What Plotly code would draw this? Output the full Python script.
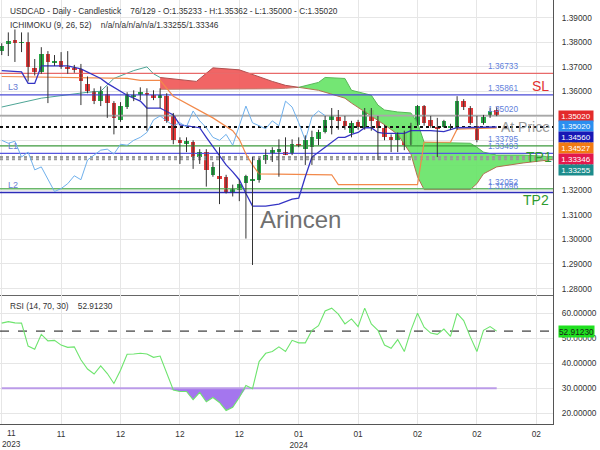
import plotly.graph_objects as go

# ------------------------------------------------------------------ data
candle_idx = list(range(76))
opens = [1.3764, 1.3792, 1.3808, 1.3798, 1.3800, 1.3696, 1.3680, 1.3752, 1.3718, 1.3724,
         1.3700, 1.3692, 1.3692, 1.3629, 1.3601, 1.3561, 1.3589, 1.3553, 1.3485, 1.3537,
         1.3579, 1.3585, 1.3593, 1.3585, 1.3577, 1.3581, 1.3505, 1.3402, 1.3386, 1.3394,
         1.3334, 1.3354, 1.3262, 1.3258, 1.3254, 1.3194, 1.3202, 1.3230, 1.3238, 1.3242,
         1.3322, 1.3350, 1.3354, 1.3354, 1.3346, 1.3386, 1.3366, 1.3374, 1.3406, 1.3434,
         1.3485, 1.3497, 1.3481, 1.3430, 1.3477, 1.3453, 1.3525, 1.3481, 1.3453, 1.3414,
         1.3402, 1.3430, 1.3386, 1.3465, 1.3541, 1.3485, 1.3457, 1.3457, 1.3453, 1.3453,
         1.3561, 1.3533, 1.3461, 1.3473, 1.3501, 1.35233]
highs = [1.3796, 1.3840, 1.3852, 1.3840, 1.3840, 1.3732, 1.3780, 1.3764, 1.3748, 1.3760,
         1.3764, 1.3708, 1.3712, 1.3661, 1.3613, 1.3621, 1.3621, 1.3561, 1.3557, 1.3597,
         1.3605, 1.3617, 1.3613, 1.3605, 1.3613, 1.3593, 1.3513, 1.3414, 1.3414, 1.3402,
         1.3366, 1.3366, 1.3314, 1.3374, 1.3262, 1.3222, 1.3242, 1.3262, 1.3334, 1.3330,
         1.3366, 1.3374, 1.3406, 1.3414, 1.3406, 1.3414, 1.3422, 1.3441, 1.3445, 1.3501,
         1.3533, 1.3525, 1.3501, 1.3481, 1.3485, 1.3533, 1.3533, 1.3501, 1.3465, 1.3426,
         1.3434, 1.3441, 1.3473, 1.3545, 1.3545, 1.3501, 1.3493, 1.3485, 1.3469, 1.3581,
         1.3569, 1.3541, 1.3501, 1.3505, 1.3533, 1.35362]
lows = [1.3748, 1.3744, 1.3720, 1.3760, 1.3641, 1.3665, 1.3672, 1.3553, 1.3704, 1.3692,
        1.3672, 1.3676, 1.3545, 1.3593, 1.3549, 1.3541, 1.3493, 1.3426, 1.3477, 1.3529,
        1.3561, 1.3565, 1.3441, 1.3565, 1.3533, 1.3473, 1.3386, 1.3306, 1.3354, 1.3286,
        1.3306, 1.3214, 1.3254, 1.3143, 1.3186, 1.3174, 1.3155, 1.3003, 1.2896, 1.3230,
        1.3306, 1.3314, 1.3254, 1.3342, 1.3342, 1.3374, 1.3302, 1.3302, 1.3382, 1.3430,
        1.3426, 1.3445, 1.3445, 1.3414, 1.3445, 1.3445, 1.3441, 1.3322, 1.3402, 1.3354,
        1.3354, 1.3362, 1.3382, 1.3461, 1.3461, 1.3453, 1.3334, 1.3453, 1.3445, 1.3445,
        1.3525, 1.3465, 1.3394, 1.3465, 1.3493, 1.35000]
closes = [1.3784, 1.3804, 1.3796, 1.3800, 1.3700, 1.3680, 1.3752, 1.3720, 1.3722, 1.3700,
          1.3692, 1.3688, 1.3641, 1.3601, 1.3561, 1.3601, 1.3553, 1.3493, 1.3541, 1.3589,
          1.3585, 1.3597, 1.3589, 1.3577, 1.3585, 1.3481, 1.3402, 1.3390, 1.3398, 1.3334,
          1.3354, 1.3282, 1.3294, 1.3246, 1.3194, 1.3206, 1.3226, 1.3258, 1.3242, 1.3322,
          1.3342, 1.3362, 1.3366, 1.3346, 1.3386, 1.3382, 1.3402, 1.3414, 1.3434, 1.3485,
          1.3501, 1.3481, 1.3461, 1.3473, 1.3457, 1.3521, 1.3481, 1.3453, 1.3414, 1.3402,
          1.3426, 1.3382, 1.3465, 1.3541, 1.3473, 1.3461, 1.3449, 1.3481, 1.3461, 1.3561,
          1.3537, 1.3473, 1.3402, 1.3497, 1.3521, 1.35020]

tenkan_idx = [0, 3, 4, 5, 6, 10, 12, 13, 15, 16, 19, 21, 22, 24, 26, 27, 30, 31, 34, 35,
              36, 37, 38, 40, 42, 44, 45, 46, 47, 49, 51, 52, 53, 54, 55, 56, 57, 58, 61, 62,
              65, 67, 69, 75]
tenkan_val = [1.3685, 1.3680, 1.3633, 1.3633, 1.3704, 1.3704, 1.3692, 1.3680, 1.3653, 1.3633,
              1.3585, 1.3561, 1.3533, 1.3533, 1.3505, 1.3465, 1.3453, 1.3414, 1.3302, 1.3274,
              1.3242, 1.3186, 1.3135, 1.3135, 1.3143, 1.3163, 1.3167, 1.3254, 1.3334, 1.3374,
              1.3414, 1.3414, 1.3426, 1.3434, 1.3453, 1.3453, 1.3434, 1.3430, 1.3430, 1.3441,
              1.3441, 1.3437, 1.3453, 1.3456]
kijun_idx = [0, 19, 21, 24, 26, 30, 32, 35, 36, 37, 38, 39, 50, 51, 63, 64, 68, 69, 75]
kijun_val = [1.3661, 1.3653, 1.3645, 1.3645, 1.3581, 1.3521, 1.3493, 1.3441, 1.3406, 1.3346,
             1.3302, 1.3266, 1.3262, 1.3222, 1.3222, 1.3394, 1.3394, 1.3447, 1.34527]
span_pre_idx = [0, 5, 6, 13, 15, 17, 20, 22, 23, 24]
span_pre_val = [1.3537, 1.3565, 1.3573, 1.3597, 1.3601, 1.3653, 1.3685, 1.3700, 1.3672, 1.3657]
red_cloud_idx = [24, 29.5, 32, 36, 41, 43, 45]
red_cloud_a = [1.3609, 1.3609, 1.3609, 1.3611, 1.3611, 1.3613, 1.3617]
red_cloud_b = [1.3657, 1.3641, 1.3696, 1.3688, 1.3641, 1.3625, 1.3617]
green_cloud_idx = [45, 48, 49, 52, 53, 56, 57, 58, 60, 62, 63, 64, 71, 72, 73, 75, 79, 84]
green_cloud_a = [1.3617, 1.3637, 1.3657, 1.3653, 1.3605, 1.3585, 1.3545, 1.3525, 1.3517,
                 1.3513, 1.3473, 1.3394, 1.3390, 1.3374, 1.3354, 1.3342, 1.3342, 1.33346]
green_cloud_b = [1.3617, 1.3605, 1.3597, 1.3573, 1.3553, 1.3501, 1.3485, 1.3465, 1.3426,
                 1.3346, 1.3254, 1.3202, 1.3202, 1.3226, 1.3266, 1.3294, 1.3310, 1.33255]
chikou_shift = 26

rsi_val = [56.1, 56.7, 56.2, 56.1, 46.9, 45.6, 51.6, 49.0, 49.2, 47.3,
           46.4, 46.6, 41.4, 37.7, 35.7, 39.0, 35.9, 31.9, 37.2, 43.6,
           43.7, 44.0, 43.7, 42.4, 42.9, 36.1, 29.3, 28.7, 28.7, 25.4,
           28.3, 24.6, 26.3, 24.3, 21.1, 22.4, 26.3, 31.1, 29.8, 40.7,
           44.0, 44.7, 46.6, 44.7, 49.2, 48.2, 48.2, 53.2, 55.1, 61.0,
           62.1, 59.7, 55.8, 57.8, 54.7, 62.1, 55.8, 53.2, 47.3, 46.0,
           49.5, 44.7, 53.2, 60.1, 54.5, 52.1, 51.6, 53.7, 50.8, 60.0,
           57.1, 50.6, 44.7, 53.2, 54.7, 52.9123]
rsi_last = 52.9123
rsi_oversold = 30

level_sl = 1.36733
level_l3 = 1.35861
level_price = 1.35020
level_at_price = 1.34560
level_tp1 = 1.33795
level_l1 = 1.33493
level_span_b = 1.33346
level_span_a = 1.33255
level_tp2 = 1.32052
level_l2 = 1.31896
labelled_levels = [level_sl, level_l3, level_price, level_tp1, level_l1, level_tp2, level_l2]

price_box_vals = [1.35020, 1.35020, 1.34560, 1.34527, 1.33346, 1.33255]
price_box_cols = ["#e32b2b", "#2b8ff0", "#1717b5", "#f27a12", "#e3184c", "#1c8c8c"]

tick_idx = [0, 9, 18, 27, 36, 45, 54, 63, 72, 81]
tick_text = ["", "11", "12", "12", "12", "01<br>2024", "01", "02", "02", "02"]
first_tick_text = "11<br>2023"
price_ticks = [1.28, 1.29, 1.30, 1.31, 1.32, 1.33, 1.34, 1.35, 1.36, 1.37, 1.38, 1.39]
rsi_ticks = [20, 30, 40, 50, 60, 70]

# ------------------------------------------------------------------ geometry
W, H = 600, 450
MR, MB = 47, 18
PW, PH = W - MR, H - MB          # plot area 553 x 432
SEP = 300.7                      # px from top where panels meet
x_range = [-0.26, 83.53]
y_range = [1.27735, 1.39715]
rsi_range = [15.67, 67.32]
main_dom = [(PH - SEP) / PH, 1.0]
rsi_dom = [0.0, (PH - SEP) / PH]

FONT = "Liberation Sans, Arial, sans-serif"


def px(xp):
    return xp / PW


def py(yp):
    return (PH - yp) / PH


fig = go.Figure()

# ---- Ichimoku cloud
fig.add_trace(go.Scatter(x=span_pre_idx, y=span_pre_val, mode="lines",
                         line=dict(color="#4ea596", width=1)))
fig.add_trace(go.Scatter(x=red_cloud_idx, y=red_cloud_a, mode="lines",
                         line=dict(color="#c08070", width=1)))
fig.add_trace(go.Scatter(x=red_cloud_idx, y=red_cloud_b, mode="lines", fill="tonexty",
                         fillcolor="rgba(240,88,88,0.92)", line=dict(color="#b05050", width=1)))
fig.add_trace(go.Scatter(x=green_cloud_idx, y=green_cloud_b, mode="lines",
                         line=dict(color="#b07050", width=1)))
fig.add_trace(go.Scatter(x=green_cloud_idx, y=green_cloud_a, mode="lines", fill="tonexty",
                         fillcolor="rgba(104,228,104,0.92)", line=dict(color="#58b858", width=1)))

# ---- horizontal levels
levels = [
    (level_sl, "#e86a6a", "solid", 1.2),
    (level_l3, "#4b4bd6", "solid", 1.2),
    (level_price, "#a8a8a8", "solid", 1.6),
    (level_tp1, "#3c9a3c", "solid", 1.2),
    (level_l1, "#5656e0", "solid", 1.2),
    (level_span_b, "#9a9a9a", "dot", 2),
    (level_span_a, "#9a9a9a", "dot", 2),
    (level_tp2, "#6ab86a", "solid", 1.5),
    (level_l2, "#2c2cb8", "solid", 1.5),
    (level_at_price, "#111111", "dot", 2),
]
for v, c, d, w in levels:
    fig.add_trace(go.Scatter(x=x_range, y=[v, v], mode="lines",
                             line=dict(color=c, dash=d, width=w)))

# ---- Ichimoku lines
fig.add_trace(go.Scatter(x=kijun_idx, y=kijun_val, mode="lines",
                         line=dict(color="#f2894a", width=1.2)))
fig.add_trace(go.Scatter(x=tenkan_idx, y=tenkan_val, mode="lines",
                         line=dict(color="#3434c4", width=1.3)))
fig.add_trace(go.Scatter(x=candle_idx[:-chikou_shift], y=closes[chikou_shift:], mode="lines",
                         line=dict(color="#6fb0ec", width=1)))

# ---- candles
wx, wy = [], []
for i, h, l in zip(candle_idx, highs, lows):
    wx += [i, i, None]
    wy += [h, l, None]
fig.add_trace(go.Scatter(x=wx, y=wy, mode="lines", line=dict(color="#333333", width=1)))
body_base = [min(o, c) for o, c in zip(opens, closes)]
body_h = [max(abs(c - o), 0.00007) for o, c in zip(opens, closes)]
body_col = ["#27a846" if c >= o else "#e23a3a" for o, c in zip(opens, closes)]
fig.add_trace(go.Bar(x=candle_idx, y=body_h, base=body_base, width=0.7,
                     marker=dict(color=body_col, line=dict(width=0))))

# ---- RSI panel
fig.add_trace(go.Scatter(x=candle_idx, y=[rsi_oversold] * len(candle_idx), mode="lines",
                         line=dict(color="rgba(0,0,0,0)", width=0), xaxis="x2", yaxis="y2"))
fig.add_trace(go.Scatter(x=candle_idx, y=[min(r, rsi_oversold) for r in rsi_val], mode="lines",
                         fill="tonexty", fillcolor="#a476ee", line=dict(width=0),
                         xaxis="x2", yaxis="y2"))
fig.add_trace(go.Scatter(x=candle_idx, y=[rsi_oversold] * len(candle_idx), mode="lines",
                         line=dict(color="#bb9be8", width=2.2), xaxis="x2", yaxis="y2"))
fig.add_trace(go.Scatter(x=x_range, y=[rsi_last, rsi_last], mode="lines",
                         line=dict(color="#111111", width=1, dash="dash"), xaxis="x2", yaxis="y2"))
fig.add_trace(go.Scatter(x=candle_idx, y=rsi_val, mode="lines",
                         line=dict(color="#6ee46e", width=1.1), xaxis="x2", yaxis="y2"))

# ------------------------------------------------------------------ annotations
ann = []
txt = dict(family=FONT, size=8.3, color="#333333")


def label(text, x, y, font, xanchor="center", yanchor="middle"):
    ann.append(dict(text=text, xref="paper", yref="paper", x=px(x), y=py(y),
                    xanchor=xanchor, yanchor=yanchor, showarrow=False, font=font))


label("USDCAD - Daily - Candlestick\u00a0\u00a0\u00a0 76/129 - O:1.35233 - H:1.35362 - L:1.35000 - C:1.35020",
      8, 11, txt, xanchor="left")
label("ICHIMOKU (9, 26, 52)\u00a0\u00a0\u00a0 n/a/n/a/n/a/n/a/1.33255/1.33346", 8, 25.5, txt, xanchor="left")
label("RSI (14, 70, 30)\u00a0\u00a0\u00a0 52.91230", 8, 311.5, txt, xanchor="left")

for v in labelled_levels:
    ann.append(dict(text=f"{v:.5f}", xref="paper", yref="y", x=px(520), y=v,
                    xanchor="right", yanchor="bottom", yshift=0, showarrow=False,
                    font=dict(family=FONT, size=8.3, color="#5f7fdc")))

label("SL", 540, 87.5, dict(family=FONT, size=14, color="#e23030"))
label("TP1", 539, 160, dict(family=FONT, size=14, color="#2f9a2f"))
label("TP2", 536, 203.5, dict(family=FONT, size=14, color="#2f9a2f"))
label("At Price", 525, 129.5, dict(family=FONT, size=14, color="#9a9a9a"))
for name, yy in (("L3", 89), ("L1", 148.5), ("L2", 188.5)):
    label(name, 6, yy, dict(family=FONT, size=9, color="#6a80d4"), xanchor="left")
label("Arincen", 300, 224, dict(family=FONT, size=24, color="#707070"))
ann.append(dict(text=first_tick_text, xref="paper", yref="paper", x=px(11.5), y=0,
                xanchor="center", yanchor="top", yshift=-2, showarrow=False,
                font=dict(family=FONT, size=8.3, color="#333333")))

# price boxes stacked down the right axis
span = y_range[1] - y_range[0]
prev = -1e9
for v, c in zip(price_box_vals, price_box_cols):
    nat = (y_range[1] - v) / span * SEP
    pos = max(nat, prev + 11)
    prev = pos
    ann.append(dict(text=f"{v:.5f}", xref="paper", yref="paper", x=1, y=py(pos),
                    xanchor="left", yanchor="middle", xshift=5, showarrow=False,
                    bgcolor=c, borderpad=0, height=10, width=34,
                    font=dict(family=FONT, size=8, color="#ffffff")))
ann.append(dict(text=f"{rsi_last:.5f}", xref="paper", yref="y2", x=1, y=rsi_last,
                xanchor="left", yanchor="middle", xshift=5, showarrow=False,
                bgcolor="#1fe01f", borderpad=0, height=11, width=35,
                font=dict(family=FONT, size=8.3, color="#1a1a1a")))

grid = "#e6e6e6"
axfont = dict(family=FONT, size=8.3, color="#333333")
fig.update_layout(
    width=W, height=H,
    margin=dict(l=0, r=MR, t=0, b=MB, pad=0),
    paper_bgcolor="white", plot_bgcolor="white",
    showlegend=False, bargap=0,
    font=dict(family=FONT),
    annotations=ann,
    xaxis=dict(domain=[0, 1], range=x_range, anchor="y", tickvals=tick_idx,
               showticklabels=False, showgrid=True, gridcolor=grid, zeroline=False,
               showline=True, linecolor="#666666", linewidth=1.3, ticks=""),
    xaxis2=dict(domain=[0, 1], range=x_range, anchor="y2", matches="x", tickvals=tick_idx,
                ticktext=tick_text, tickfont=axfont, showgrid=True, gridcolor=grid,
                zeroline=False, showline=True, linecolor="#555555", linewidth=1.3,
                ticks="outside", ticklen=2, tickcolor="rgba(0,0,0,0)"),
    yaxis=dict(domain=main_dom, range=y_range, side="right", anchor="x", tickvals=price_ticks,
               tickformat=".5f", tickfont=axfont, showgrid=True, gridcolor=grid,
               zeroline=False, showline=True, linecolor="#555555", linewidth=1.3,
               ticks="outside", ticklen=6, tickcolor="rgba(0,0,0,0)"),
    yaxis2=dict(domain=rsi_dom, range=rsi_range, side="right", anchor="x2", tickvals=rsi_ticks,
                tickformat=".5f", tickfont=axfont, showgrid=True, gridcolor=grid,
                zeroline=False, showline=True, linecolor="#555555", linewidth=1.3,
                ticks="outside", ticklen=6, tickcolor="rgba(0,0,0,0)"),
)

fig.write_html("out.html")
